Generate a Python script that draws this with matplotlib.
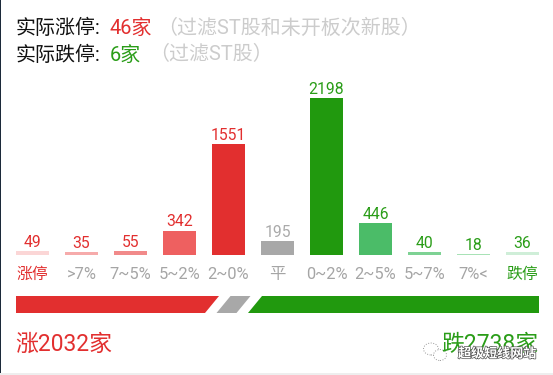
import matplotlib
matplotlib.use('Agg')
import matplotlib.pyplot as plt
import matplotlib.patheffects as pe
from matplotlib.patches import Polygon, Rectangle, Ellipse

plt.rcParams['font.family'] = ['Roboto', 'Noto Sans CJK SC', 'DejaVu Sans']

categories = ['涨停', '>7%', '7~5%', '5~2%', '2~0%', '平', '0~2%', '2~5%', '5~7%', '7%<', '跌停']
counts = [49, 35, 55, 342, 1551, 195, 2198, 446, 40, 18, 36]
bar_colors = ['#fbd6d6', '#f6abab', '#f18a8a', '#ee6060', '#e22f2f', '#a8a8a8',
              '#21990e', '#4bbc68', '#7ed294', '#a8e2b6', '#cfeed8']
text_colors = ['#e22f2f'] * 5 + ['#aaaaaa'] + ['#2a9d18'] * 5
cat_colors = ['#e22f2f'] + ['#a5a5a5'] * 9 + ['#2a9d18']
ribbon_values = [1960, 200, 2840]
ribbon_colors = ['#e22f2f', '#a8a8a8', '#21990e']

W, H = 553, 375
RED = '#e22f2f'
GREEN = '#2a9d18'
GREY = '#cccccc'

fig = plt.figure(figsize=(W / 100, H / 100), dpi=100)


def axes_px(x0, y0, x1, y1):
    # pixel box measured from the top left of the image
    return fig.add_axes([x0 / W, 1 - y1 / H, (x1 - x0) / W, (y1 - y0) / H])


def txt(x, y, s, **kw):
    return fig.text(x / W, 1 - y / H, s, va='center', **kw)


# bars
ax = axes_px(0, 55, W, 255)
ax.bar(range(len(counts)), counts, width=0.67, color=bar_colors)
ax.set_xlim(-32.5 / 49, (W - 32.5) / 49)
ax.set_ylim(0, 200 / 0.0715)
ax.axis('off')
for i, c in enumerate(counts):
    ax.annotate(str(c), (i, c), xytext=(0, 0.8), textcoords='offset points',
                ha='center', va='bottom', fontsize=11.3, color=text_colors[i])
    size = 11.4 if i in (0, 10) else 11.8
    ax.annotate(categories[i], (i, 0), xytext=(0, -8.5), textcoords='offset points',
                ha='center', va='top', fontsize=size, color=cat_colors[i],
                annotation_clip=False)

# ribbon under the bars
rx = axes_px(16, 296, 539, 313)
rx.set_xlim(0, 5230)
rx.set_ylim(0, 1)
rx.axis('off')
skew = 70
gap = 115
left = 0
for i, (v, col) in enumerate(zip(ribbon_values, ribbon_colors)):
    if i == 0:
        pts = [(0, 0), (v - skew, 0), (v + skew, 1), (0, 1)]
    elif i == 2:
        pts = [(left - skew, 0), (5230, 0), (5230, 1), (left + skew, 1)]
    else:
        pts = [(left - skew, 0), (left + v - skew, 0), (left + v + skew, 1), (left + skew, 1)]
    rx.add_patch(Polygon(pts, closed=True, color=col, lw=0))
    left += v + gap

# header
txt(16, 28, '实际涨停:', fontsize=14.4, color='#111111')
txt(110, 28, '46家', fontsize=14.4, color=RED)
txt(157, 28, '（过滤ST股和未开板次新股）', fontsize=14.4, color=GREY)
txt(16, 55, '实际跌停:', fontsize=14.4, color='#111111')
txt(110, 55, '6家', fontsize=14.4, color=GREEN)
txt(149, 55, '（过滤ST股）', fontsize=14.4, color=GREY)

# totals
txt(15, 344, '涨2032家', fontsize=16.5, color=RED)
txt(538, 344, '跌2738家', fontsize=16.5, color=GREEN, ha='right')

# watermark
for cx, cy, w, h in [(431, 349, 15, 12), (440, 355, 13, 11)]:
    fig.add_artist(Ellipse((cx / W, 1 - cy / H), w / W, h / H, transform=fig.transFigure,
                           facecolor='white', edgecolor='#999999', lw=0.7, ls=':'))
mark = txt(458, 354, '超级短线网站', fontsize=9.4, color='white', fontweight='bold')
mark.set_path_effects([pe.withStroke(linewidth=1.0, foreground='#555555')])

# image edges
fig.add_artist(Rectangle((0, 0), 1 / W, 1, transform=fig.transFigure, color='#1c2a3a', lw=0))
fig.add_artist(Rectangle((0, 0), 1, 2 / H, transform=fig.transFigure, color='#eeeeee', lw=0))

fig.savefig('out.png', dpi=100)
